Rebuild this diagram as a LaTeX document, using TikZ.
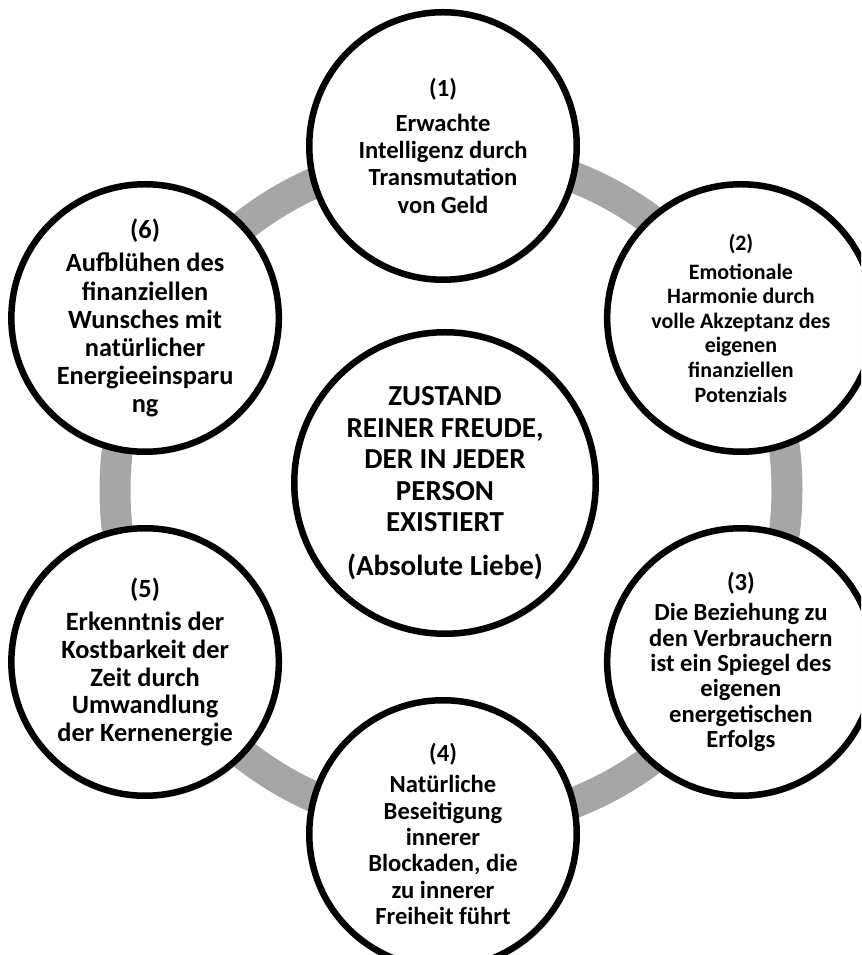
\documentclass[tikz,border=0pt]{standalone}
\usepackage{fontspec}
\setmainfont{Carlito}
\usepackage{xcolor}
\usepackage{tikz}
\usetikzlibrary{shadows}

\definecolor{ringgray}{HTML}{A6A6A6}

\begin{document}
\begin{tikzpicture}[
    petal/.style={circle, draw, line width=0.13cm, fill=white, minimum size=5.35cm, inner sep=0pt, align=center,
        drop shadow={shadow xshift=0.05cm, shadow yshift=-0.06cm, opacity=0.25}},
    core/.style={petal, minimum size=6.03cm},
    ring/.style={draw=ringgray, line width=0.62cm}
]
    \useasboundingbox (0,0) rectangle (17.22,19.10);
    \clip (0,0) rectangle (17.22,19.10);

    % Hub and ring
    \coordinate (hub) at (8.86,9.30);
    \coordinate (ringc) at (9.02,9.30);
    \draw[ring] (ringc) circle (6.72);

    % Centre
    \node[core, font=\fontsize{16.5}{18}\selectfont\bfseries] (state) at (8.90,9.44)
        {ZUSTAND\\REINER FREUDE,\\DER IN JEDER\\PERSON\\EXISTIERT\\[0.4em](Absolute Liebe)};

    % Six steps round the ring
    \node[petal, font=\fontsize{14}{15.5}\selectfont\bfseries] (s1) at ([shift={(90:6.88)}]hub)
        {(1)\\[0.3em]Erwachte\\Intelligenz durch\\Transmutation\\von Geld};
    \node[petal, font=\fontsize{12.5}{14}\selectfont\bfseries] (s2) at ([shift={(30:6.88)}]hub)
        {(2)\\[0.2em]Emotionale\\Harmonie durch\\volle Akzeptanz des\\eigenen\\finanziellen\\Potenzials};
    \node[petal, font=\fontsize{14}{14.5}\selectfont\bfseries] (s3) at ([shift={(-30:6.88)}]hub)
        {(3)\\[0.2em]Die Beziehung zu\\den Verbrauchern\\ist ein Spiegel des\\eigenen\\energetischen\\Erfolgs};
    \node[petal, font=\fontsize{14}{15}\selectfont\bfseries] (s4) at ([shift={(-90:6.88)}]hub)
        {(4)\\[0.2em]Natürliche\\Beseitigung\\innerer\\Blockaden, die\\zu innerer\\Freiheit führt};
    \node[petal, font=\fontsize{15}{15.8}\selectfont\bfseries] (s5) at ([shift={(-150:6.88)}]hub)
        {(5)\\[0.2em]Erkenntnis der\\Kostbarkeit der\\Zeit durch\\Umwandlung\\der Kernenergie};
    \node[petal, font=\fontsize{15}{16}\selectfont\bfseries] (s6) at ([shift={(150:6.88)}]hub)
        {(6)\\[0.2em]Aufblühen des\\finanziellen\\Wunsches mit\\natürlicher\\Energieeinsparu\\ng};
\end{tikzpicture}
\end{document}
